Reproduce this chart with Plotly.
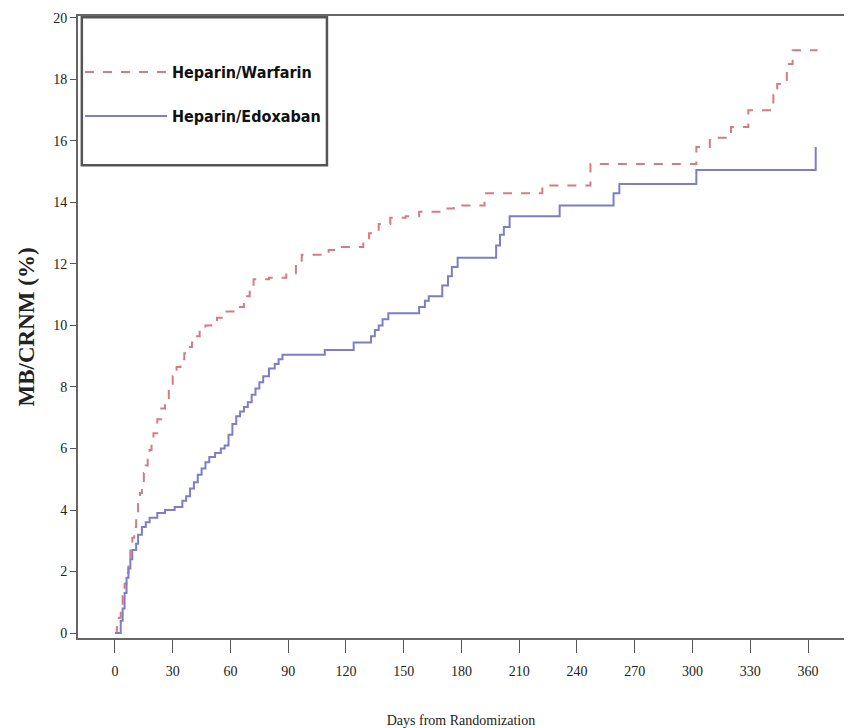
import plotly.graph_objects as go

# Heparin/Warfarin cumulative incidence (days, %)
warf_days = [0, 1, 2, 3, 4, 5, 6, 7, 8, 9, 10, 11, 12, 13, 14, 15, 16, 17, 18, 19, 20,
             22, 24, 26, 28, 30, 32, 34, 36, 38, 40, 42, 44, 47, 50, 53, 56, 64, 67, 70, 72,
             80, 89, 94, 97, 111, 115, 129, 132, 137, 143, 151, 158, 171, 176, 192, 222,
             247, 302, 309, 320, 329, 342, 344, 349, 352, 365]
warf_vals = [0, 0.2, 0.5, 0.85, 1.2, 1.6, 1.95, 2.35, 2.75, 3.1, 3.45, 3.8, 4.2, 4.55, 4.9,
             5.2, 5.45, 5.7, 5.95, 6.3, 6.5, 6.95, 7.3, 7.6, 7.95, 8.35, 8.65, 8.9, 9.1,
             9.3, 9.45, 9.65, 9.85, 10.0, 10.1, 10.25, 10.45, 10.6, 10.95, 11.25, 11.5,
             11.55, 11.7, 12.1, 12.3, 12.45, 12.55, 12.8, 13.0, 13.3, 13.5, 13.55, 13.7,
             13.8, 13.9, 14.3, 14.55, 15.25, 15.8, 16.1, 16.45, 17.0, 17.5, 17.85, 18.5,
             18.95, 18.95]

# Heparin/Edoxaban cumulative incidence (days, %)
edox_days = [0, 3, 4, 5, 6, 7, 8, 9, 11, 12, 14, 16, 18, 22, 26, 31, 35, 37, 39, 41, 43,
             45, 47, 49, 52, 55, 57, 59, 61, 63, 65, 67, 69, 71, 73, 75, 77, 80, 83, 85, 87,
             109, 124, 133, 135, 137, 139, 142, 158, 161, 163, 170, 173, 175, 178,
             198, 200, 202, 205, 231, 259, 262, 302, 364]
edox_vals = [0, 0.4, 0.8, 1.3, 1.8, 2.1, 2.4, 2.7, 2.9, 3.2, 3.45, 3.6, 3.75, 3.9, 4.0,
             4.1, 4.3, 4.45, 4.7, 4.9, 5.15, 5.35, 5.55, 5.72, 5.85, 6.0, 6.1, 6.45, 6.8,
             7.05, 7.2, 7.35, 7.5, 7.75, 7.95, 8.15, 8.35, 8.6, 8.75, 8.9, 9.05, 9.2,
             9.45, 9.65, 9.85, 10.0, 10.2, 10.4, 10.6, 10.8, 10.95, 11.3, 11.6, 11.9,
             12.2, 12.6, 12.95, 13.2, 13.55, 13.9, 14.3, 14.6, 15.05, 15.8]

x_ticks = [0, 30, 60, 90, 120, 150, 180, 210, 240, 270, 300, 330, 360]
y_ticks = [0, 2, 4, 6, 8, 10, 12, 14, 16, 18, 20]

fig = go.Figure()
fig.add_trace(go.Scatter(x=warf_days, y=warf_vals, mode="lines", line_shape="hv",
                         name="Heparin/Warfarin", legendgroup="w",
                         line=dict(color="#d67c80", width=2, dash="dash")))
fig.add_trace(go.Scatter(x=edox_days, y=edox_vals, mode="lines", line_shape="hv",
                         name="Heparin/Edoxaban", legendgroup="e",
                         line=dict(color="#7d7dc8", width=2)))

serif = "Liberation Serif, Times New Roman, serif"
# the page body adds an 8px offset, so the figure is 8px smaller than the window
fig.update_layout(
    width=844, height=720,
    margin=dict(l=70, r=8, t=8, b=90),
    paper_bgcolor="white", plot_bgcolor="white",
    showlegend=True,
    legend=dict(x=0.0026, y=0.937, xanchor="left", yanchor="top",
                bgcolor="rgba(255,255,255,0)", borderwidth=0,
                traceorder="grouped", tracegroupgap=20, itemwidth=82,
                font=dict(family="Liberation Sans Narrow, Arial Narrow, DejaVu Sans Condensed, sans-serif",
                          size=16, color="#111", weight="bold")),
    xaxis=dict(range=[-19.2, 378.7], tickvals=x_ticks, ticks="outside", ticklen=13,
               tickcolor="#555", showline=True, linecolor="#666", linewidth=2,
               mirror=True, showgrid=False, zeroline=False, automargin=False,
               ticklabelstandoff=6,
               tickfont=dict(family=serif, size=14, color="#222"),
               title=dict(text="Days from Randomization", standoff=42,
                          font=dict(family=serif, size=14, color="#222"))),
    yaxis=dict(range=[-0.16, 20.06], tickvals=y_ticks, ticks="outside", ticklen=6,
               tickcolor="#555", showline=True, linecolor="#666", linewidth=2,
               mirror=True, showgrid=False, zeroline=False, automargin=False,
               tickfont=dict(family=serif, size=14, color="#222"),
               title=dict(text="<b>MB/CRNM (%)</b>", standoff=12,
                          font=dict(family=serif, size=23, color="#222"))),
    shapes=[dict(type="rect", xref="paper", yref="paper", x0=0.005, x1=0.325,
                 y0=0.760, y1=0.998, line=dict(color="#555", width=2.5),
                 fillcolor="rgba(0,0,0,0)")],
)

fig.write_html("out.html")
